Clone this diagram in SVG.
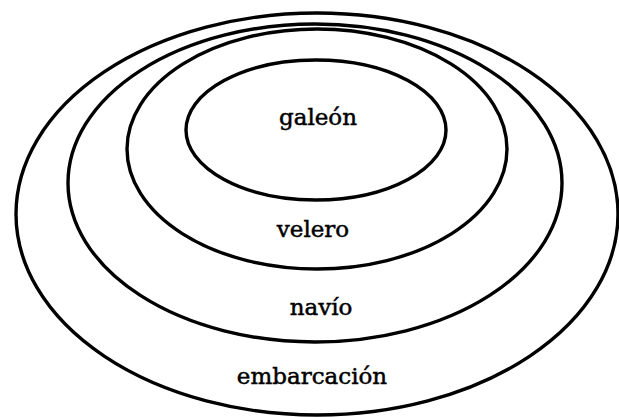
<svg xmlns="http://www.w3.org/2000/svg" width="619" height="417" viewBox="0 0 619 417">
<style>
.set{fill:none;stroke:#000;stroke-width:3.4}
.lbl{font-family:"DejaVu Serif","Liberation Serif",serif;font-size:23px;fill:#000;stroke:#000;stroke-width:0.5;text-anchor:middle}
</style>
<rect width="619" height="417" fill="#fff"/>
<g id="embarcacion">
<ellipse class="set" cx="317" cy="214" rx="301" ry="201"/>
<text class="lbl" x="312" y="384">embarcación</text>
</g>
<g id="navio">
<ellipse class="set" cx="315" cy="183" rx="247" ry="159"/>
<text class="lbl" x="321" y="315">navío</text>
</g>
<g id="velero">
<ellipse class="set" cx="317" cy="149" rx="190" ry="120"/>
<text class="lbl" x="313" y="237">velero</text>
</g>
<g id="galeon">
<ellipse class="set" cx="316" cy="130" rx="130" ry="70"/>
<text class="lbl" x="318" y="125">galeón</text>
</g>
</svg>
